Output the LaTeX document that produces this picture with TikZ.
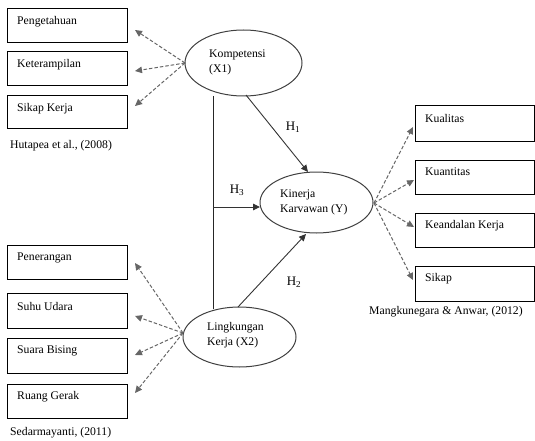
\documentclass[tikz,border=0pt]{standalone}
\usepackage{fontspec}
\setmainfont{Liberation Serif}
\usetikzlibrary{arrows.meta}
\begin{document}
\begin{tikzpicture}[x=1pt,y=-1pt,
  txt/.style={font=\fontsize{11.7}{15}\selectfont, inner sep=0pt, anchor=west},
  box/.style={draw=black, line width=1pt},
  ell/.style={draw=black!75, line width=1pt},
  dsh/.style={draw=black!60, dashed, dash pattern=on 3.5pt off 2pt, line width=1pt, -{Triangle[length=7pt,width=6.5pt]}},
  sol/.style={draw=black!80, line width=0.9pt, -{Triangle[length=7pt,width=6.5pt]}},
  pl/.style={draw=black!85, line width=0.9pt}]
\useasboundingbox (0,0) rectangle (535,441);
% left top boxes
\draw[box] (7,9) rectangle (127,43);
\draw[box] (7,52) rectangle (127,86);
\draw[box] (7,96) rectangle (127,129);
\node[txt] (t1) at (17,22) {Pengetahuan};
\node[txt] (t2) at (17,65) {Keterampilan};
\node[txt] (t3) at (17,109) {Sikap Kerja};
\node[txt] (c1) at (10,146) {Hutapea et al., (2008)};
% left bottom boxes
\draw[box] (7,245) rectangle (127,279);
\draw[box] (7,293) rectangle (127,328);
\draw[box] (7,338) rectangle (127,373);
\draw[box] (7,384) rectangle (127,418);
\node[txt] (t4) at (17,258) {Penerangan};
\node[txt] (t5) at (17,306) {Suhu Udara};
\node[txt] (t6) at (17,351) {Suara Bising};
\node[txt] (t7) at (17,397) {Ruang Gerak};
\node[txt] (c2) at (10,433) {Sedarmayanti, (2011)};
% right boxes
\draw[box] (415,106) rectangle (534,141);
\draw[box] (415,160) rectangle (534,194);
\draw[box] (415,213) rectangle (534,247);
\draw[box] (415,266) rectangle (534,301);
\node[txt] (t8) at (425,118) {Kualitas};
\node[txt] (t9) at (425,172) {Kuantitas};
\node[txt] (t10) at (425,226) {Keandalan Kerja};
\node[txt] (t11) at (425,279) {Sikap};
\node[txt] (c3) at (369,312) {Mangkunegara \& Anwar, (2012)};
% ellipses
\draw[ell] (243.5,63) ellipse [x radius=58.5, y radius=33];
\draw[ell] (316.5,202.5) ellipse [x radius=56.5, y radius=30.5];
\draw[ell] (239.5,337) ellipse [x radius=56.5, y radius=30];
\node[txt, align=left] (k) at (209,62.5) {Kompetensi\\(X1)};
\node[txt, align=left] (y) at (280,202.5) {Kinerja\\Karvawan (Y)};
\node[txt, align=left] (l) at (207,335) {Lingkungan\\Kerja (X2)};
% coordinates
\coordinate (kL) at (185,63);
\coordinate (lL) at (183,333);
\coordinate (yR) at (374,203);
\coordinate (a1) at (135,30);
\coordinate (a2) at (135,71);
\coordinate (a3) at (135,106);
\coordinate (b1) at (135,263);
\coordinate (b2) at (135,316);
\coordinate (b3) at (135,355);
\coordinate (b4) at (135,393);
\coordinate (r1) at (413,127);
\coordinate (r2) at (414,180);
\coordinate (r3) at (414,227);
\coordinate (r4) at (413,280);
\coordinate (vt) at (213,96);
\coordinate (vb) at (213,309);
\coordinate (vm) at (213,207);
\coordinate (yL) at (260,207);
\coordinate (kB) at (246,95);
\coordinate (yT) at (308,172);
\coordinate (lT) at (238,307);
\coordinate (yB) at (306,234);
% dashed arrows
\foreach \p in {a1,a2,a3} \draw[dsh] (kL) -- (\p);
\foreach \p in {b1,b2,b3,b4} \draw[dsh] (lL) -- (\p);
\foreach \p in {r1,r2,r3,r4} \draw[dsh] (yR) -- (\p);
% solid
\draw[pl] (vt) -- (vb);
\draw[sol] (vm) -- (yL);
\draw[sol] (kB) -- (yT);
\draw[sol] (lT) -- (yB);
\node[font=\fontsize{13}{15}\selectfont, inner sep=0pt] (h1) at (293,127) {H\textsubscript{1}};
\node[font=\fontsize{13}{15}\selectfont, inner sep=0pt] (h3) at (237,190) {H\textsubscript{3}};
\node[font=\fontsize{13}{15}\selectfont, inner sep=0pt] (h2) at (294,282) {H\textsubscript{2}};
\end{tikzpicture}
\end{document}
